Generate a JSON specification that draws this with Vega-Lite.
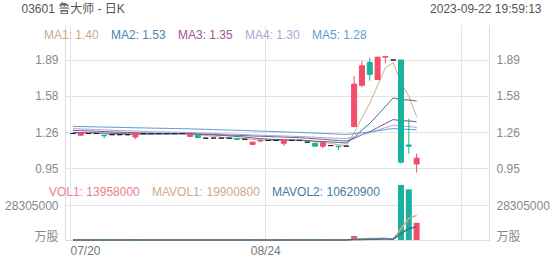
{
  "$schema": "https://vega.github.io/schema/vega-lite/v6.json",
  "padding": {"left": 4, "top": 2, "right": 0, "bottom": 0},
  "background": "white",
  "spacing": 0,
  "bounds": "flush",
  "config": {
    "font": "Liberation Sans",
    "view": {"stroke": null},
    "axis": {
      "gridColor": "#e4e4e4", "gridWidth": 1, "domainColor": "#dddddd",
      "labelColor": "#888888", "labelFontSize": 12, "labelFont": "Liberation Sans, Noto Sans CJK SC",
      "ticks": false, "tickSize": 0, "labelPadding": 7
    },
    "legend": {"padding": 0}
  },
  "resolve": {"scale": {"color": "independent"}},
  "data": {"values": [
    {"i":0,"date":"07/20","o":1.25,"h":1.25,"l":1.25,"c":1.25,"v":0,"MA1":1.254,"MA2":1.259,"MA3":1.277,"MA4":1.292,"MA5":1.312,"MAVOL1":50000,"MAVOL2":60000},
    {"i":1,"date":"07/21","o":1.235,"h":1.255,"l":1.235,"c":1.255,"v":120000,"MA1":1.254,"MA2":1.2585,"MA3":1.275,"MA4":1.2898,"MA5":1.3107,"MAVOL1":50000,"MAVOL2":60000},
    {"i":2,"date":"07/24","o":1.25,"h":1.25,"l":1.25,"c":1.25,"v":0,"MA1":1.253,"MA2":1.2575,"MA3":1.2728,"MA4":1.2874,"MA5":1.3094,"MAVOL1":40000,"MAVOL2":60000},
    {"i":3,"date":"07/25","o":1.25,"h":1.25,"l":1.25,"c":1.25,"v":0,"MA1":1.252,"MA2":1.2565,"MA3":1.2705,"MA4":1.285,"MA5":1.308,"MAVOL1":40000,"MAVOL2":60000},
    {"i":4,"date":"07/26","o":1.235,"h":1.235,"l":1.21,"c":1.23,"v":200000,"MA1":1.247,"MA2":1.2535,"MA3":1.2673,"MA4":1.2819,"MA5":1.3063,"MAVOL1":64000,"MAVOL2":60000},
    {"i":5,"date":"07/27","o":1.24,"h":1.24,"l":1.24,"c":1.24,"v":20000,"MA1":1.245,"MA2":1.2515,"MA3":1.2645,"MA4":1.2792,"MA5":1.3048,"MAVOL1":68000,"MAVOL2":60000},
    {"i":6,"date":"07/28","o":1.24,"h":1.24,"l":1.24,"c":1.24,"v":0,"MA1":1.242,"MA2":1.2495,"MA3":1.2618,"MA4":1.2764,"MA5":1.3032,"MAVOL1":44000,"MAVOL2":60000},
    {"i":7,"date":"07/31","o":1.24,"h":1.24,"l":1.24,"c":1.24,"v":0,"MA1":1.24,"MA2":1.2475,"MA3":1.259,"MA4":1.2737,"MA5":1.3017,"MAVOL1":44000,"MAVOL2":60000},
    {"i":8,"date":"08/01","o":1.22,"h":1.255,"l":1.2,"c":1.25,"v":300000,"MA1":1.24,"MA2":1.2465,"MA3":1.2568,"MA4":1.2713,"MA5":1.3003,"MAVOL1":104000,"MAVOL2":64000},
    {"i":9,"date":"08/02","o":1.25,"h":1.25,"l":1.25,"c":1.25,"v":0,"MA1":1.244,"MA2":1.2455,"MA3":1.2545,"MA4":1.2689,"MA5":1.299,"MAVOL1":64000,"MAVOL2":64000},
    {"i":10,"date":"08/03","o":1.25,"h":1.25,"l":1.25,"c":1.25,"v":0,"MA1":1.246,"MA2":1.2455,"MA3":1.2523,"MA4":1.2665,"MA5":1.2976,"MAVOL1":60000,"MAVOL2":64000},
    {"i":11,"date":"08/04","o":1.25,"h":1.25,"l":1.25,"c":1.25,"v":0,"MA1":1.248,"MA2":1.245,"MA3":1.2518,"MA4":1.265,"MA5":1.2962,"MAVOL1":60000,"MAVOL2":52000},
    {"i":12,"date":"08/07","o":1.25,"h":1.25,"l":1.25,"c":1.25,"v":0,"MA1":1.25,"MA2":1.245,"MA3":1.2513,"MA4":1.2635,"MA5":1.2949,"MAVOL1":60000,"MAVOL2":52000},
    {"i":13,"date":"08/08","o":1.25,"h":1.25,"l":1.25,"c":1.25,"v":0,"MA1":1.25,"MA2":1.245,"MA3":1.2508,"MA4":1.262,"MA5":1.2935,"MAVOL1":0,"MAVOL2":52000},
    {"i":14,"date":"08/09","o":1.25,"h":1.25,"l":1.25,"c":1.25,"v":0,"MA1":1.25,"MA2":1.247,"MA3":1.2503,"MA4":1.2605,"MA5":1.2921,"MAVOL1":0,"MAVOL2":32000},
    {"i":15,"date":"08/10","o":1.225,"h":1.24,"l":1.225,"c":1.24,"v":80000,"MA1":1.248,"MA2":1.247,"MA3":1.2493,"MA4":1.2587,"MA5":1.2906,"MAVOL1":16000,"MAVOL2":38000},
    {"i":16,"date":"08/11","o":1.235,"h":1.235,"l":1.21,"c":1.215,"v":100000,"MA1":1.241,"MA2":1.2445,"MA3":1.247,"MA4":1.256,"MA5":1.2886,"MAVOL1":36000,"MAVOL2":48000},
    {"i":17,"date":"08/14","o":1.21,"h":1.21,"l":1.21,"c":1.21,"v":0,"MA1":1.233,"MA2":1.2415,"MA3":1.2445,"MA4":1.2532,"MA5":1.2866,"MAVOL1":36000,"MAVOL2":48000},
    {"i":18,"date":"08/15","o":1.21,"h":1.21,"l":1.21,"c":1.21,"v":0,"MA1":1.225,"MA2":1.2375,"MA3":1.242,"MA4":1.2503,"MA5":1.2846,"MAVOL1":36000,"MAVOL2":18000},
    {"i":19,"date":"08/16","o":1.21,"h":1.21,"l":1.21,"c":1.21,"v":0,"MA1":1.217,"MA2":1.2335,"MA3":1.2395,"MA4":1.2475,"MA5":1.2825,"MAVOL1":36000,"MAVOL2":18000},
    {"i":20,"date":"08/17","o":1.21,"h":1.21,"l":1.21,"c":1.21,"v":0,"MA1":1.211,"MA2":1.2295,"MA3":1.2375,"MA4":1.2447,"MA5":1.2805,"MAVOL1":20000,"MAVOL2":18000},
    {"i":21,"date":"08/18","o":1.205,"h":1.21,"l":1.195,"c":1.2,"v":60000,"MA1":1.208,"MA2":1.2245,"MA3":1.2348,"MA4":1.2427,"MA5":1.2783,"MAVOL1":12000,"MAVOL2":24000},
    {"i":22,"date":"08/21","o":1.2,"h":1.2,"l":1.2,"c":1.2,"v":0,"MA1":1.206,"MA2":1.2195,"MA3":1.2323,"MA4":1.2407,"MA5":1.2761,"MAVOL1":12000,"MAVOL2":24000},
    {"i":23,"date":"08/22","o":1.155,"h":1.18,"l":1.155,"c":1.175,"v":160000,"MA1":1.199,"MA2":1.212,"MA3":1.2285,"MA4":1.2378,"MA5":1.2735,"MAVOL1":44000,"MAVOL2":40000},
    {"i":24,"date":"08/23","o":1.185,"h":1.2,"l":1.175,"c":1.19,"v":50000,"MA1":1.195,"MA2":1.206,"MA3":1.2265,"MA4":1.2355,"MA5":1.2711,"MAVOL1":54000,"MAVOL2":45000},
    {"i":25,"date":"08/24","o":1.19,"h":1.19,"l":1.19,"c":1.19,"v":0,"MA1":1.191,"MA2":1.201,"MA3":1.224,"MA4":1.2332,"MA5":1.2688,"MAVOL1":54000,"MAVOL2":37000},
    {"i":26,"date":"08/25","o":1.19,"h":1.19,"l":1.19,"c":1.19,"v":0,"MA1":1.189,"MA2":1.1985,"MA3":1.2215,"MA4":1.2308,"MA5":1.2664,"MAVOL1":42000,"MAVOL2":27000},
    {"i":27,"date":"08/28","o":1.165,"h":1.2,"l":1.14,"c":1.195,"v":200000,"MA1":1.188,"MA2":1.197,"MA3":1.2193,"MA4":1.2287,"MA5":1.2641,"MAVOL1":82000,"MAVOL2":47000},
    {"i":28,"date":"08/29","o":1.19,"h":1.19,"l":1.19,"c":1.19,"v":0,"MA1":1.191,"MA2":1.195,"MA3":1.2163,"MA4":1.2263,"MA5":1.2617,"MAVOL1":50000,"MAVOL2":47000},
    {"i":29,"date":"08/30","o":1.19,"h":1.19,"l":1.19,"c":1.19,"v":0,"MA1":1.191,"MA2":1.193,"MA3":1.2133,"MA4":1.224,"MA5":1.2594,"MAVOL1":40000,"MAVOL2":47000},
    {"i":30,"date":"08/31","o":1.175,"h":1.175,"l":1.175,"c":1.175,"v":20000,"MA1":1.188,"MA2":1.1895,"MA3":1.2095,"MA4":1.2215,"MA5":1.2568,"MAVOL1":44000,"MAVOL2":49000},
    {"i":31,"date":"09/04","o":1.165,"h":1.17,"l":1.14,"c":1.14,"v":100000,"MA1":1.178,"MA2":1.1835,"MA3":1.204,"MA4":1.2177,"MA5":1.2537,"MAVOL1":64000,"MAVOL2":53000},
    {"i":32,"date":"09/05","o":1.14,"h":1.175,"l":1.12,"c":1.17,"v":150000,"MA1":1.173,"MA2":1.1805,"MA3":1.2,"MA4":1.215,"MA5":1.2512,"MAVOL1":54000,"MAVOL2":68000},
    {"i":33,"date":"09/06","o":1.145,"h":1.145,"l":1.145,"c":1.145,"v":10000,"MA1":1.164,"MA2":1.1775,"MA3":1.1948,"MA4":1.2115,"MA5":1.2482,"MAVOL1":56000,"MAVOL2":53000},
    {"i":34,"date":"09/07","o":1.14,"h":1.14,"l":1.105,"c":1.135,"v":80000,"MA1":1.153,"MA2":1.172,"MA3":1.189,"MA4":1.2083,"MA5":1.2451,"MAVOL1":72000,"MAVOL2":56000},
    {"i":35,"date":"09/11","o":1.14,"h":1.14,"l":1.14,"c":1.14,"v":0,"MA1":1.146,"MA2":1.167,"MA3":1.184,"MA4":1.205,"MA5":1.2421,"MAVOL1":68000,"MAVOL2":56000},
    {"i":36,"date":"09/12","o":1.31,"h":1.75,"l":1.31,"c":1.68,"v":3200000,"MA1":1.254,"MA2":1.216,"MA3":1.2073,"MA4":1.2197,"MA5":1.248,"MAVOL1":688000,"MAVOL2":376000},
    {"i":37,"date":"09/13","o":1.67,"h":1.88,"l":1.655,"c":1.84,"v":1450000,"MA1":1.388,"MA2":1.2805,"MA3":1.2388,"MA4":1.2397,"MA5":1.2567,"MAVOL1":948000,"MAVOL2":501000},
    {"i":38,"date":"09/14","o":1.87,"h":1.91,"l":1.71,"c":1.765,"v":1200000,"MA1":1.512,"MA2":1.338,"MA3":1.2665,"MA4":1.2568,"MA5":1.2641,"MAVOL1":1186000,"MAVOL2":621000},
    {"i":39,"date":"09/15","o":1.72,"h":1.915,"l":1.72,"c":1.915,"v":855000,"MA1":1.668,"MA2":1.4105,"MA3":1.3018,"MA4":1.279,"MA5":1.274,"MAVOL1":1341000,"MAVOL2":706500},
    {"i":40,"date":"09/18","o":1.915,"h":1.925,"l":1.86,"c":1.92,"v":40000,"MA1":1.824,"MA2":1.485,"MA3":1.3373,"MA4":1.3013,"MA5":1.2839,"MAVOL1":1349000,"MAVOL2":708500},
    {"i":41,"date":"09/19","o":1.89,"h":1.89,"l":1.89,"c":1.89,"v":6000,"MA1":1.866,"MA2":1.56,"MA3":1.3718,"MA4":1.3227,"MA5":1.2938,"MAVOL1":710200,"MAVOL2":699100},
    {"i":42,"date":"09/20","o":1.89,"h":1.89,"l":0.99,"c":1.0,"v":44550000,"MA1":1.698,"MA2":1.543,"MA3":1.3618,"MA4":1.3143,"MA5":1.2889,"MAVOL1":9330200,"MAVOL2":5139100},
    {"i":43,"date":"09/21","o":1.15,"h":1.38,"l":1.075,"c":1.14,"v":40950000,"MA1":1.573,"MA2":1.5425,"MA3":1.36,"MA4":1.3107,"MA5":1.2863,"MAVOL1":17280200,"MAVOL2":9233100},
    {"i":44,"date":"09/22","o":0.985,"h":1.075,"l":0.91,"c":1.035,"v":13958000,"MA1":1.397,"MA2":1.5325,"MA3":1.3523,"MA4":1.3035,"MA5":1.282,"MAVOL1":19900800,"MAVOL2":10620900}
  ]},
  "vconcat": [
    {
      "width": 424,
      "height": 145,
      "resolve": {"axis": {"y": "independent"}},
      "layer": [
        {
          "transform": [{"fold": ["MA1", "MA2", "MA3", "MA4", "MA5"], "as": ["series", "val"]}],
          "mark": {"type": "line", "strokeWidth": 1},
          "encoding": {
            "x": {"field": "i", "type": "quantitative", "scale": {"domain": [-0.375, 52.625], "nice": false, "zero": false}, "axis": {"values": [-0.375, 24.625, 49.625], "labels": false, "ticks": false, "domain": false, "grid": true, "title": null}},
            "y": {"field": "val", "type": "quantitative", "scale": {"domain": [0.9326, 2.1946], "nice": false, "zero": false}, "axis": null},
            "color": {
              "field": "series", "type": "nominal",
              "scale": {"domain": ["MA1", "MA2", "MA3", "MA4", "MA5"], "range": ["#d2aa8a", "#3d6d90", "#8e4b8e", "#a3a9dc", "#5e9fd0"]},
              "legend": {
                "orient": "none", "legendX": -33, "legendY": 4, "direction": "horizontal", "title": null,
                "symbolSize": 0, "symbolOpacity": 0, "symbolStrokeWidth": 0, "labelOffset": 0, "columnPadding": -4,
                "labelFontSize": 12, "labelFont": "Liberation Sans",
                "labelExpr": "datum.label == 'MA1' ? 'MA1: 1.40' : datum.label == 'MA2' ? 'MA2: 1.53' : datum.label == 'MA3' ? 'MA3: 1.35' : datum.label == 'MA4' ? 'MA4: 1.30' : 'MA5: 1.28'",
                "labelColor": {"expr": "datum.value == 'MA1' ? '#cfa98b' : datum.value == 'MA2' ? '#4a85ad' : datum.value == 'MA3' ? '#a6548f' : datum.value == 'MA4' ? '#a7a7da' : '#5c9fca'"}
              }
            }
          }
        },
        {
          "mark": {"type": "rule", "strokeWidth": 1},
          "encoding": {
            "x": {"field": "i", "type": "quantitative", "scale": {"domain": [-0.375, 52.625], "nice": false, "zero": false}, "axis": {"values": [-0.375, 24.625, 49.625], "labels": false, "ticks": false, "domain": false, "grid": true, "title": null}},
            "y": {"field": "l", "type": "quantitative", "scale": {"domain": [0.9326, 2.1946], "nice": false, "zero": false},
              "axis": {"orient": "left", "values": [0.95, 1.26, 1.58, 1.89], "format": ".2f", "grid": true, "domain": true,
                "title": "03601 鲁大师 - 日K", "titleAngle": 0, "titleAlign": "left", "titleBaseline": "middle", "titleX": -44, "titleY": -17,
                "titleFontSize": 12, "titleFontWeight": "normal", "titleColor": "#555555", "titleFont": "Liberation Sans, Noto Sans CJK SC"}},
            "y2": {"field": "h"},
            "color": {"condition": [{"test": "datum.c > datum.o", "value": "#f24e6c"}, {"test": "datum.c < datum.o", "value": "#19b29d"}], "value": "#222222"}
          }
        },
        {
          "mark": {"type": "bar", "size": 5, "strokeWidth": 1},
          "encoding": {
            "x": {"field": "i", "type": "quantitative", "scale": {"domain": [-0.375, 52.625], "nice": false, "zero": false}, "axis": {"values": [-0.375, 24.625, 49.625], "labels": false, "ticks": false, "domain": false, "grid": true, "title": null}},
            "y": {"field": "o", "type": "quantitative", "scale": {"domain": [0.9326, 2.1946], "nice": false, "zero": false},
              "axis": {"orient": "right", "values": [0.95, 1.26, 1.58, 1.89], "format": ".2f", "grid": false, "domain": true,
                "title": "2023-09-22 19:59:13", "titleAngle": 0, "titleAlign": "right", "titleBaseline": "middle", "titleX": 52, "titleY": -17,
                "titleFontSize": 12, "titleFontWeight": "normal", "titleColor": "#555555", "titleFont": "Liberation Sans"}},
            "y2": {"field": "c"},
            "color": {"condition": [{"test": "datum.c > datum.o", "value": "#f24e6c"}, {"test": "datum.c < datum.o", "value": "#19b29d"}], "value": "#222222"},
            "stroke": {"condition": [{"test": "datum.c > datum.o", "value": "#f24e6c"}, {"test": "datum.c < datum.o", "value": "#19b29d"}], "value": "#222222"}
          }
        }
      ]
    },
    {
      "width": 424,
      "height": 70,
      "resolve": {"axis": {"y": "independent"}},
      "layer": [
        {
          "transform": [{"filter": "datum.v > 0"}],
          "mark": {"type": "bar", "size": 6, "orient": "vertical"},
          "encoding": {
            "x": {"field": "i", "type": "quantitative", "scale": {"domain": [-0.375, 52.625], "nice": false, "zero": false},
              "axis": {"values": [-0.375, 24.625, 49.625], "labelExpr": "datum.value < 0 ? '07/20' : datum.value < 30 ? '08/24' : ''",
                "labelAlign": {"condition": {"test": "datum.value < 0", "value": "left"}, "value": "center"}, "labelFlush": false,
                "labelBaseline": "top", "labelPadding": 5, "labelColor": "#777777", "grid": true, "ticks": false, "domain": true, "title": null}},
            "y": {"field": "v", "type": "quantitative", "scale": {"domain": [0, 56610000], "nice": false},
              "axis": {"orient": "left", "values": [0, 28305000], "labelExpr": "datum.value == 0 ? '万股' : '28305000'", "grid": true, "domain": true, "title": null,
                "labelBaseline": {"condition": {"test": "datum.value == 0", "value": "alphabetic"}, "value": "middle"}}},
            "y2": {"datum": 0},
            "color": {"condition": [{"test": "datum.c > datum.o", "value": "#f24e6c"}, {"test": "datum.c < datum.o", "value": "#19b29d"}], "value": "#888888"}
          }
        },
        {
          "transform": [{"fold": ["MAVOL1", "MAVOL2"], "as": ["series", "val"]}],
          "mark": {"type": "line", "strokeWidth": 1.5},
          "encoding": {
            "x": {"field": "i", "type": "quantitative", "scale": {"domain": [-0.375, 52.625], "nice": false, "zero": false},
              "axis": {"values": [-0.375, 24.625, 49.625], "labelExpr": "datum.value < 0 ? '07/20' : datum.value < 30 ? '08/24' : ''",
                "labelAlign": {"condition": {"test": "datum.value < 0", "value": "left"}, "value": "center"}, "labelFlush": false,
                "labelBaseline": "top", "labelPadding": 5, "labelColor": "#777777", "grid": true, "ticks": false, "domain": true, "title": null}},
            "y": {"field": "val", "type": "quantitative", "scale": {"domain": [0, 56610000], "nice": false},
              "axis": {"orient": "right", "values": [0, 28305000], "labelExpr": "datum.value == 0 ? '万股' : '28305000'", "grid": false, "domain": true, "title": null,
                "labelBaseline": {"condition": {"test": "datum.value == 0", "value": "alphabetic"}, "value": "middle"}}},
            "color": {
              "field": "series", "type": "nominal",
              "scale": {"domain": ["VOL1", "MAVOL1", "MAVOL2"], "range": ["#ec7d8a", "#d2aa8a", "#3d6d90"]},
              "legend": {
                "orient": "none", "legendX": -28, "legendY": 16, "direction": "horizontal", "title": null,
                "symbolSize": 0, "symbolOpacity": 0, "symbolStrokeWidth": 0, "labelOffset": 0, "columnPadding": -3,
                "labelFontSize": 12, "labelFont": "Liberation Sans",
                "labelExpr": "datum.label == 'VOL1' ? 'VOL1: 13958000' : datum.label == 'MAVOL1' ? 'MAVOL1: 19900800' : 'MAVOL2: 10620900'",
                "labelColor": {"expr": "datum.value == 'VOL1' ? '#ec7d8a' : datum.value == 'MAVOL1' ? '#cfa98b' : '#3f7ca3'"}
              }
            }
          }
        }
      ]
    }
  ]
}
